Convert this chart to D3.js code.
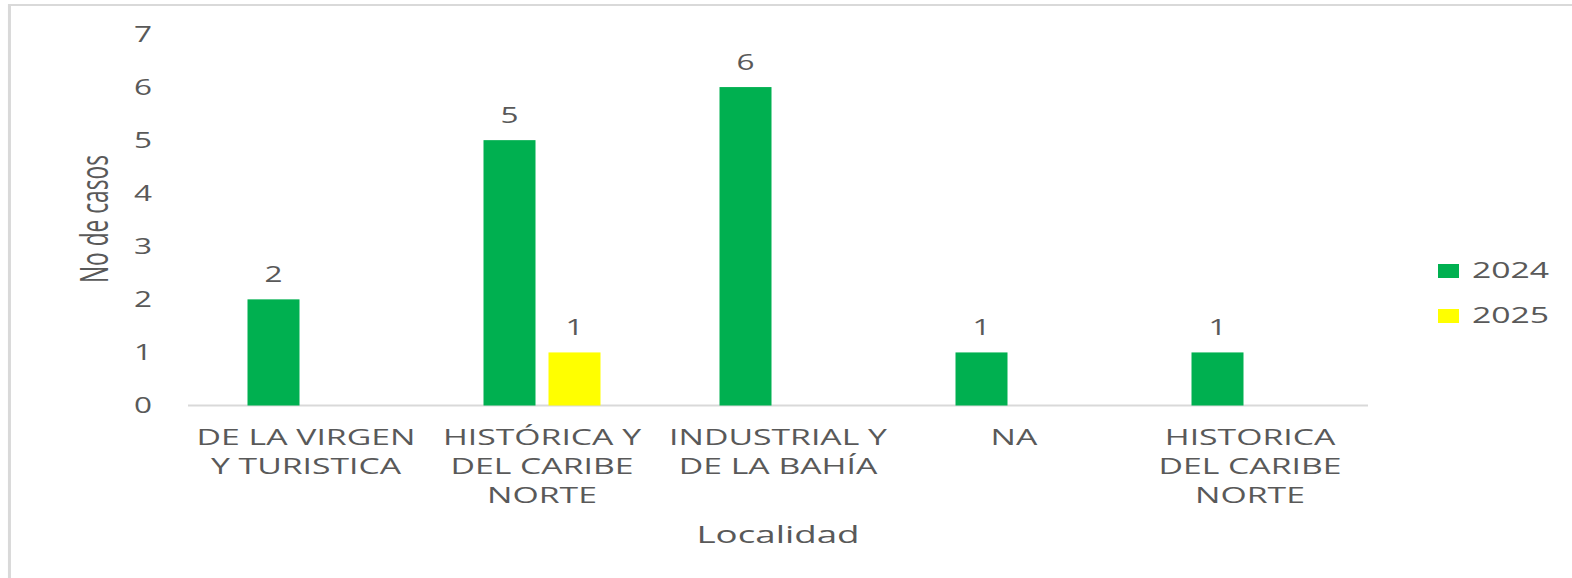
<!DOCTYPE html>
<html>
<head>
<meta charset="utf-8">
<script src="https://cdn.jsdelivr.net/npm/d3@7"></script>
<style>
  html, body { margin: 0; padding: 0; background: #fff; overflow: hidden; }
  text { font-family: "Open Sans", "DejaVu Sans", sans-serif; fill: #595959; }
</style>
</head>
<body>
<div id="chart"></div>
<script>
// data
var categories = ["DE LA VIRGEN Y TURISTICA", "HISTÓRICA Y DEL CARIBE NORTE", "INDUSTRIAL Y DE LA BAHÍA", "NA", "HISTORICA DEL CARIBE NORTE"];
var tickLines = [
    ["DE LA VIRGEN", "Y TURISTICA"],
    ["HISTÓRICA Y", "DEL CARIBE", "NORTE"],
    ["INDUSTRIAL Y", "DE LA BAHÍA"],
    ["NA"],
    ["HISTORICA", "DEL CARIBE", "NORTE"]
];
var seriesNames = ["2024", "2025"];
var values2024 = [2, 5, 6, 1, 1];
var values2025 = [null, 1, null, null, null];
var yTicks = [0, 1, 2, 3, 4, 5, 6, 7];

var colors = { "2024": "#00B050", "2025": "#FFFF00" };

// the picture is stretched sideways, so draw narrow and stretch the svg
var W = 1572, H = 578, SX = 1.5;
var iw = W / SX;

var svg = d3.select("#chart").append("svg")
    .attr("width", W)
    .attr("height", H)
    .attr("viewBox", "0 0 " + iw + " " + H)
    .attr("preserveAspectRatio", "none")
    .style("display", "block");

// outer frame (only top and left edges are visible)
svg.append("rect")
    .attr("x", 6.3).attr("y", 5)
    .attr("width", iw + 20).attr("height", H + 20)
    .style("fill", "none")
    .style("stroke", "#d9d9d9")
    .style("stroke-width", 2);

var x0 = 188 / SX, x1 = 1368 / SX;
var yBase = 405.5, yTop = 34;

var x = d3.scaleBand().domain(categories).range([x0, x1]);
var groupW = 117 / SX;
var xSub = d3.scaleBand().domain(seriesNames).range([0, groupW]).paddingInner(0.2);
var y = d3.scaleLinear().domain([0, 7]).range([yBase, yTop]);

// y tick labels
svg.append("g").selectAll("text")
    .data(yTicks)
    .enter().append("text")
    .attr("x", 152 / SX)
    .attr("y", function (d) { return y(d); })
    .attr("dy", "0.36em")
    .attr("text-anchor", "end")
    .style("font-size", "21px")
    .text(function (d) { return d; });

// y title
svg.append("text")
    .attr("transform", "translate(" + (108 / SX) + "," + 219 + ") rotate(-90)")
    .attr("text-anchor", "middle")
    .attr("textLength", 128)
    .attr("lengthAdjust", "spacingAndGlyphs")
    .style("font-size", "26px")
    .text("No de casos");

// x axis line
svg.append("line")
    .attr("x1", x0).attr("x2", x1)
    .attr("y1", yBase).attr("y2", yBase)
    .style("stroke", "#d9d9d9")
    .style("stroke-width", 2);

// bars
var series = [
    { name: "2024", values: values2024 },
    { name: "2025", values: values2025 }
];
var rows = [];
series.forEach(function (s) {
    s.values.forEach(function (v, i) {
        if (v != null) rows.push({ cat: categories[i], name: s.name, value: v });
    });
});

function barX(d) {
    return x(d.cat) + (x.bandwidth() - groupW) / 2 + xSub(d.name);
}

svg.append("g").selectAll("rect")
    .data(rows)
    .enter().append("rect")
    .attr("x", barX)
    .attr("width", xSub.bandwidth())
    .attr("y", function (d) { return y(d.value); })
    .attr("height", function (d) { return yBase - y(d.value); })
    .style("fill", function (d) { return colors[d.name]; });

// value labels
svg.append("g").selectAll("text")
    .data(rows)
    .enter().append("text")
    .attr("x", function (d) { return barX(d) + xSub.bandwidth() / 2; })
    .attr("y", function (d) { return y(d.value) - 17; })
    .attr("text-anchor", "middle")
    .style("font-size", "21px")
    .text(function (d) { return d.value; });

// category labels, wrapped like the original
var catG = svg.append("g").selectAll("text")
    .data(categories)
    .enter().append("text")
    .attr("text-anchor", "middle")
    .style("font-size", "22.5px");

catG.selectAll("tspan")
    .data(function (d, i) { return tickLines[i].map(function (l) { return { cat: d, line: l }; }); })
    .enter().append("tspan")
    .attr("x", function (d) { return x(d.cat) + x.bandwidth() / 2; })
    .attr("y", function (d, j) { return 445 + j * 29; })
    .text(function (d) { return d.line; });

// x title
svg.append("text")
    .attr("x", (x0 + x1) / 2)
    .attr("y", 543)
    .attr("text-anchor", "middle")
    .style("font-size", "24.5px")
    .text("Localidad");

// legend
var legend = svg.append("g").selectAll("g")
    .data(seriesNames)
    .enter().append("g")
    .attr("transform", function (d, i) { return "translate(" + (1438 / SX) + "," + (264 + i * 45) + ")"; });

legend.append("rect")
    .attr("width", 21 / SX)
    .attr("height", 14)
    .style("fill", function (d) { return colors[d]; });

legend.append("text")
    .attr("x", 34 / SX)
    .attr("y", 14)
    .style("font-size", "22.5px")
    .text(function (d) { return d; });
</script>
</body>
</html>
